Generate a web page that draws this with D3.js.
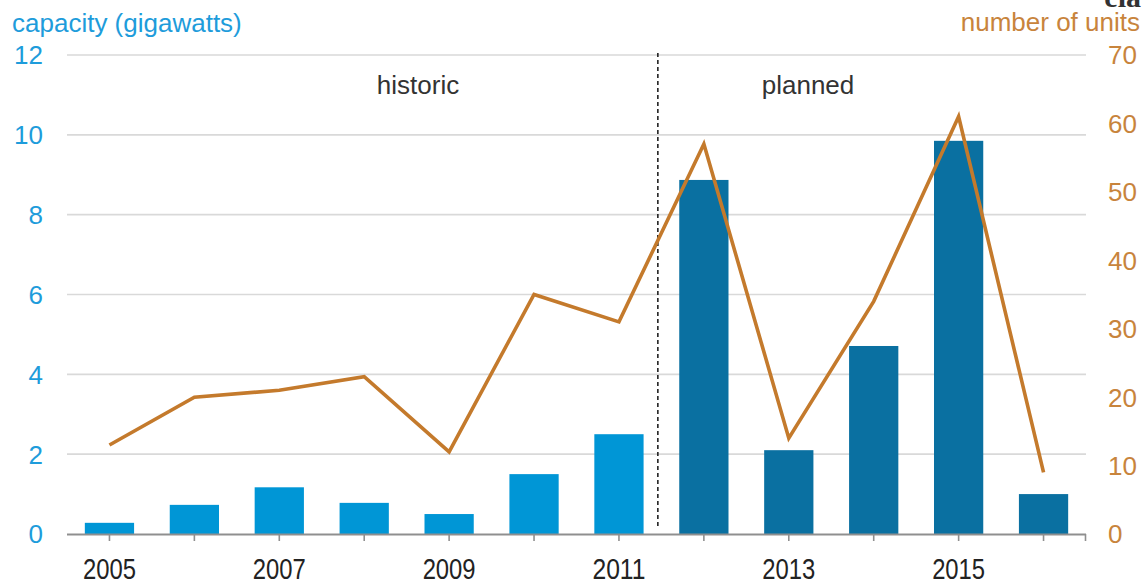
<!DOCTYPE html>
<html>
<head>
<meta charset="utf-8">
<script src="https://cdn.jsdelivr.net/npm/d3@7"></script>
<style>
  html, body { margin: 0; padding: 0; background: #fff; }
  svg { display: block; font-family: "Liberation Sans", Arial, sans-serif; }
</style>
</head>
<body>
<div id="chart"></div>
<script>
// Data
const years = [2005, 2006, 2007, 2008, 2009, 2010, 2011, 2012, 2013, 2014, 2015, 2016];
const capacityGW = [0.28, 0.73, 1.17, 0.78, 0.5, 1.5, 2.5, 8.87, 2.1, 4.71, 9.85, 1.0];
const units = [13, 20, 21, 23, 12, 35, 31, 57, 14, 34, 61, 9];
const firstPlanned = 2012;
const leftTicks = [0, 2, 4, 6, 8, 10, 12];
const rightTicks = [0, 10, 20, 30, 40, 50, 60, 70];
const yearLabels = [2005, 2007, 2009, 2011, 2013, 2015];

const COLORS = {
  historic: "#0096d6",
  planned: "#0a70a1",
  line: "#c47a2c",
  left: "#1e9cdb",
  right: "#c8843c",
  grid: "#d9d9d9",
  axis: "#8f8f8f",
  ink: "#222",
};

const W = 1143, H = 585;
const plot = { left: 67, right: 1086, top: 55, bottom: 534 };

const svg = d3.select("#chart").append("svg")
  .attr("width", W).attr("height", H)
  .attr("viewBox", `0 0 ${W} ${H}`);

// Skalaer
const x = d3.scaleBand()
  .domain(years)
  .range([plot.left, plot.right])
  .paddingInner(0.42)
  .paddingOuter(0.21);

const yL = d3.scaleLinear().domain([0, 12]).range([plot.bottom, plot.top]);
const yR = d3.scaleLinear().domain([0, 70]).range([plot.bottom, plot.top]);
const cx = d => x(d) + x.bandwidth() / 2;

// Rutenett
svg.append("g")
  .selectAll("line")
  .data(leftTicks.filter(t => t > 0))
  .join("line")
  .attr("x1", plot.left).attr("x2", plot.right)
  .attr("y1", d => yL(d)).attr("y2", d => yL(d))
  .attr("stroke", COLORS.grid)
  .attr("stroke-width", 1.6);

// Venstre akse (kapasitet)
svg.append("g")
  .selectAll("text")
  .data(leftTicks)
  .join("text")
  .attr("x", 43)
  .attr("y", d => yL(d))
  .attr("dy", "0.36em")
  .attr("text-anchor", "end")
  .attr("fill", COLORS.left)
  .attr("font-size", 26)
  .text(d => d);

// Høyre akse (antall enheter)
svg.append("g")
  .selectAll("text")
  .data(rightTicks)
  .join("text")
  .attr("x", 1108)
  .attr("y", d => yR(d))
  .attr("dy", "0.36em")
  .attr("text-anchor", "start")
  .attr("fill", COLORS.right)
  .attr("font-size", 26)
  .text(d => d);

svg.append("text")
  .attr("x", 12).attr("y", 32)
  .attr("fill", COLORS.left)
  .attr("font-size", 26)
  .text("capacity (gigawatts)");

svg.append("text")
  .attr("x", 1140).attr("y", 31)
  .attr("text-anchor", "end")
  .attr("fill", COLORS.right)
  .attr("font-size", 26)
  .text("number of units");

// eia-logo, avkuttet i toppen
svg.append("text")
  .attr("x", 1141).attr("y", 7)
  .attr("text-anchor", "end")
  .attr("fill", "#333")
  .attr("font-family", "'Liberation Serif', serif")
  .attr("font-weight", "bold")
  .attr("font-size", 30)
  .text("eia");

// Søyler
svg.append("g")
  .selectAll("rect")
  .data(years.map((yr, i) => ({ yr, v: capacityGW[i] })))
  .join("rect")
  .attr("x", d => x(d.yr))
  .attr("y", d => yL(d.v))
  .attr("width", x.bandwidth())
  .attr("height", d => yL(0) - yL(d.v))
  .attr("fill", d => d.yr >= firstPlanned ? COLORS.planned : COLORS.historic);

// Skillelinje historisk / planlagt
const iSplit = years.indexOf(firstPlanned);
const splitX = x(years[iSplit - 1]) + x.bandwidth() +
  (x(firstPlanned) - x(years[iSplit - 1]) - x.bandwidth()) * 0.4;
svg.append("line")
  .attr("x1", splitX).attr("x2", splitX)
  .attr("y1", plot.top - 2).attr("y2", plot.bottom - 5)
  .attr("stroke", "#222")
  .attr("stroke-width", 1.6)
  .attr("stroke-dasharray", "4,3");

svg.append("text")
  .attr("x", 418).attr("y", 94)
  .attr("text-anchor", "middle")
  .attr("fill", "#333")
  .attr("font-size", 26)
  .text("historic");

svg.append("text")
  .attr("x", 808).attr("y", 94)
  .attr("text-anchor", "middle")
  .attr("fill", "#333")
  .attr("font-size", 26)
  .text("planned");

// Linje for antall enheter
svg.append("path")
  .datum(years.map((yr, i) => ({ yr, v: units[i] })))
  .attr("fill", "none")
  .attr("stroke", COLORS.line)
  .attr("stroke-width", 3.6)
  .attr("stroke-linejoin", "miter")
  .attr("d", d3.line().x(d => cx(d.yr)).y(d => yR(d.v)));

// X-akse
const xAxis = svg.append("g")
  .attr("transform", `translate(0,${plot.bottom})`)
  .call(d3.axisBottom(x)
    .tickSize(7)
    .tickSizeOuter(0)
    .tickFormat(d => yearLabels.includes(d) ? d : ""));
xAxis.select(".domain")
  .attr("stroke", COLORS.axis)
  .attr("stroke-width", 2)
  .attr("d", `M${plot.left},0.5H${plot.right}`);
xAxis.selectAll(".tick line").attr("stroke", COLORS.axis).attr("stroke-width", 1.6);
// Smale årstall: høyere skrift klemt sammen i bredden
xAxis.selectAll(".tick text")
  .attr("fill", COLORS.ink)
  .attr("font-size", 29)
  .attr("y", 45)
  .attr("dy", 0)
  .filter(function () { return this.textContent !== ""; })
  .attr("textLength", 53)
  .attr("lengthAdjust", "spacingAndGlyphs");
xAxis.append("line")
  .attr("x1", plot.right - 0.5).attr("x2", plot.right - 0.5)
  .attr("y1", 0).attr("y2", 7)
  .attr("stroke", COLORS.axis)
  .attr("stroke-width", 1.6);
</script>
</body>
</html>
